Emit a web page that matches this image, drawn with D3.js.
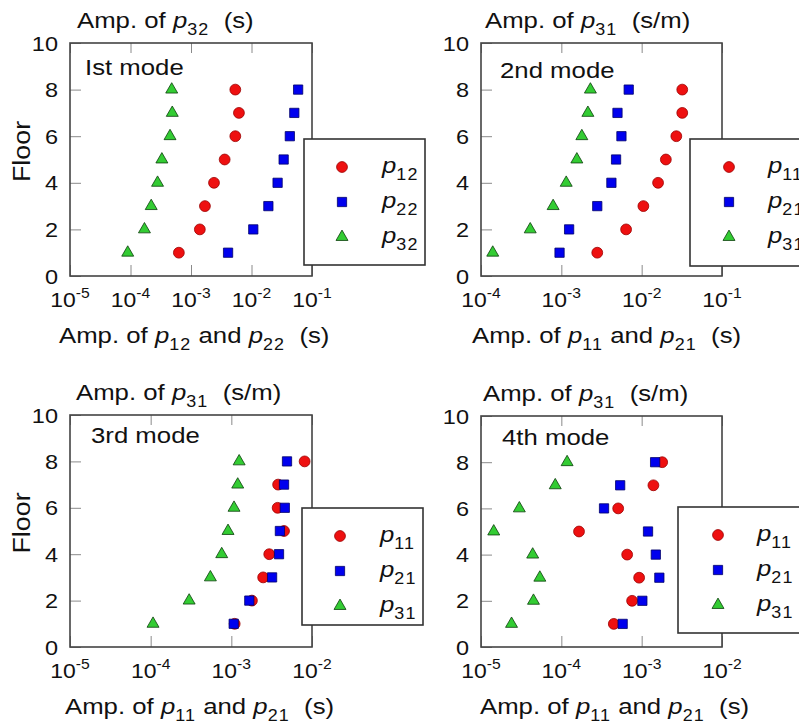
<!DOCTYPE html>
<html>
<head>
<meta charset="utf-8">
<script src="https://cdn.jsdelivr.net/npm/d3@7"></script>
<style>
  html, body { margin: 0; padding: 0; background: #fff; }
  svg { display: block; font-family: "Liberation Sans", Arial, sans-serif; }
  text { white-space: pre; }
</style>
</head>
<body>
<svg id="chart" width="799" height="722"></svg>
<script>
/* Mode amplitude vs floor, four panels */
(function(){
  // data: amplitude per floor, floors 1..8
  const floors = [1, 2, 3, 4, 5, 6, 7, 8];

  const mode1_p12 = [6.3e-4, 1.4e-3, 1.7e-3, 2.4e-3, 3.6e-3, 5.4e-3, 6.2e-3, 5.4e-3];
  const mode1_p22 = [4.1e-3, 1.07e-2, 1.9e-2, 2.7e-2, 3.4e-2, 4.3e-2, 5.1e-2, 5.9e-2];
  const mode1_p32 = [9e-5, 1.7e-4, 2.2e-4, 2.8e-4, 3.3e-4, 4.5e-4, 4.9e-4, 4.8e-4];

  const mode2_p11 = [2.8e-3, 6.4e-3, 1.05e-2, 1.6e-2, 2.0e-2, 2.7e-2, 3.2e-2, 3.2e-2];
  const mode2_p21 = [9.5e-4, 1.25e-3, 2.8e-3, 4.2e-3, 4.8e-3, 5.6e-3, 5.0e-3, 6.9e-3];
  const mode2_p31 = [1.4e-4, 4.1e-4, 7.9e-4, 1.15e-3, 1.56e-3, 1.8e-3, 2.14e-3, 2.3e-3];

  const mode3_p11 = [1.1e-3, 1.8e-3, 2.48e-3, 2.95e-3, 4.5e-3, 3.75e-3, 3.8e-3, 8.1e-3];
  const mode3_p21 = [1.07e-3, 1.67e-3, 3.2e-3, 3.9e-3, 4.0e-3, 4.6e-3, 4.5e-3, 4.9e-3];
  const mode3_p31 = [1.07e-4, 3.0e-4, 5.5e-4, 7.6e-4, 9.1e-4, 1.08e-3, 1.2e-3, 1.25e-3];

  const mode4_p11 = [4.5e-4, 7.6e-4, 9.3e-4, 6.6e-4, 1.66e-4, 5.1e-4, 1.4e-3, 1.8e-3];
  const mode4_p21 = [5.8e-4, 1.02e-3, 1.66e-3, 1.5e-3, 1.2e-3, 3.4e-4, 5.4e-4, 1.47e-3];
  const mode4_p31 = [2.4e-5, 4.5e-5, 5.4e-5, 4.4e-5, 1.44e-5, 3.0e-5, 8.4e-5, 1.18e-4];

  const modeNames = ['Ist mode', '2nd mode', '3rd mode', '4th mode'];
  const floorTicks = [0, 2, 4, 6, 8, 10];

  const svg = d3.select('#chart');
  const SX = 1.12; // text in the figure is a bit wide
  const FS = 23;   // main label size

  const styles = {
    circle: { type: d3.symbolCircle, size: 92, fill: '#ee1010', stroke: '#9a0000' },
    square: { type: d3.symbolSquare, size: 86, fill: '#0000ee', stroke: '#00006a' },
    triangle: { type: d3.symbolTriangle, size: 62, fill: '#33cc33', stroke: '#0b3d0b' }
  };

  // panel layout
  const panels = [
    { x0: 70, x1: 312, y0: 43, y1: 276, dom: [1e-5, 1e-1], mode: modeNames[0],
      modeX: 15, modeY: 32, floorLabel: true, titleDx: 7, xlabDx: -11,
      top: '32', topUnit: 's', botA: '12', botB: '22',
      series: [['circle', '12', mode1_p12], ['square', '22', mode1_p22], ['triangle', '32', mode1_p32]],
      leg: { x: 304, y: 139, w: 121, h: 126, mx: 342, tx: 382, r0: 167 } },
    { x0: 481, x1: 722, y0: 43, y1: 276, dom: [1e-4, 1e-1], mode: modeNames[1],
      modeX: 19, modeY: 35, floorLabel: false, titleDx: 4, xlabDx: -9,
      top: '31', topUnit: 's/m', botA: '11', botB: '21',
      series: [['circle', '11', mode2_p11], ['square', '21', mode2_p21], ['triangle', '31', mode2_p31]],
      leg: { x: 690, y: 139, w: 140, h: 127, mx: 729, tx: 768, r0: 167 } },
    { x0: 70, x1: 312, y0: 415, y1: 647, dom: [1e-5, 1e-2], mode: modeNames[2],
      modeX: 21, modeY: 28, floorLabel: true, titleDx: 6, xlabDx: -5,
      top: '31', topUnit: 's/m', botA: '11', botB: '21',
      series: [['circle', '11', mode3_p11], ['square', '21', mode3_p21], ['triangle', '31', mode3_p31]],
      leg: { x: 302, y: 508, w: 121, h: 117, mx: 340, tx: 380, r0: 536 } },
    { x0: 481, x1: 722, y0: 416, y1: 647, dom: [1e-5, 1e-2], mode: modeNames[3],
      modeX: 21, modeY: 29, floorLabel: false, titleDx: 2, xlabDx: -1,
      top: '31', topUnit: 's/m', botA: '11', botB: '21',
      series: [['circle', '11', mode4_p11], ['square', '21', mode4_p21], ['triangle', '31', mode4_p31]],
      leg: { x: 678, y: 507, w: 150, h: 126, mx: 718, tx: 757, r0: 535 } }
  ];

  // text helper: parts = [[string, kind]] kind: '' normal, 'i' italic, 's' subscript
  function label(g, x, y, parts, size, anchor){
    const t = g.append('text')
      .attr('transform', `translate(${x},${y}) scale(${SX},1)`)
      .attr('text-anchor', anchor || 'start')
      .style('font-size', size + 'px')
      .attr('fill', '#111');
    let shifted = false;
    parts.forEach(([s, kind]) => {
      const ts = t.append('tspan').text(s);
      if (kind === 'i') ts.style('font-style', 'italic');
      if (kind === 's') {
        ts.style('font-size', Math.round(size * 0.7) + 'px').style('letter-spacing', '1px').attr('dy', 7);
        shifted = true;
      } else if (shifted) { ts.attr('dy', -7); shifted = false; }
    });
    return t;
  }

  function sym(g, kind, x, y){
    const st = styles[kind];
    g.append('path')
      .attr('d', d3.symbol().type(st.type).size(st.size)())
      .attr('transform', `translate(${x},${y})`)
      .attr('fill', st.fill)
      .attr('stroke', st.stroke)
      .attr('stroke-width', 0.8);
  }

  panels.forEach(p => {
    const g = svg.append('g');
    const x = d3.scaleLog().domain(p.dom).range([p.x0, p.x1]);
    const y = d3.scaleLinear().domain([0, 10]).range([p.y1, p.y0]);
    const lo = Math.round(Math.log10(p.dom[0])), hi = Math.round(Math.log10(p.dom[1]));
    const decades = d3.range(lo, hi + 1).map(e => Math.pow(10, e));

    // inward tick marks
    const tickCol = '#8a8a8a';
    g.append('g').attr('transform', `translate(0,${p.y1})`)
      .call(d3.axisBottom(x).tickValues(decades).tickSize(-11).tickFormat(''))
      .call(a => { a.select('.domain').remove(); a.selectAll('line').attr('stroke', tickCol); });
    g.append('g').attr('transform', `translate(0,${p.y0})`)
      .call(d3.axisTop(x).tickValues(decades).tickSize(-10).tickFormat(''))
      .call(a => { a.select('.domain').remove(); a.selectAll('line').attr('stroke', tickCol); });
    g.append('g').attr('transform', `translate(${p.x0},0)`)
      .call(d3.axisLeft(y).tickValues(floorTicks).tickSize(-11).tickFormat(''))
      .call(a => { a.select('.domain').remove(); a.selectAll('line').attr('stroke', tickCol); });

    // frame
    g.append('rect')
      .attr('x', p.x0).attr('y', p.y0)
      .attr('width', p.x1 - p.x0).attr('height', p.y1 - p.y0)
      .attr('fill', 'none').attr('stroke', '#444').attr('stroke-width', 1.6);

    // x tick labels 10^n
    decades.forEach(v => {
      const e = Math.round(Math.log10(v));
      const t = g.append('text')
        .attr('transform', `translate(${x(v)},${p.y1 + 31}) scale(${SX},1)`)
        .attr('text-anchor', 'middle')
        .attr('fill', '#111')
        .style('font-size', '20.5px');
      t.append('tspan').text('10');
      t.append('tspan').text(String(e)).attr('dy', -9).style('font-size', '14px');
    });

    // y tick labels
    floorTicks.forEach(v => {
      g.append('text')
        .attr('transform', `translate(${p.x0 - 12},${y(v) + 7.5}) scale(${SX},1)`)
        .attr('text-anchor', 'end')
        .attr('fill', '#111')
        .style('font-size', '21px')
        .text(v);
    });

    // titles
    label(g, p.x0 + p.titleDx, p.y0 - 15,
      [['Amp. of ', ''], ['p', 'i'], [p.top, 's'], ['  (' + p.topUnit + ')', '']], FS);
    label(g, p.x0 + p.xlabDx, p.y1 + 67,
      [['Amp. of ', ''], ['p', 'i'], [p.botA, 's'], [' and ', ''], ['p', 'i'], [p.botB, 's'], ['  (s)', '']], FS);
    label(g, p.x0 + p.modeX, p.y0 + p.modeY, [[p.mode, '']], FS);

    if (p.floorLabel) {
      g.append('text')
        .attr('transform', `translate(${p.x0 - 40},${(p.y0 + p.y1) / 2 - 8}) rotate(-90) scale(${SX},1)`)
        .attr('text-anchor', 'middle')
        .attr('fill', '#111')
        .style('font-size', '24px')
        .text('Floor');
    }

    // markers: circles, then squares, then triangles
    p.series.forEach(([kind, , vals]) => {
      vals.forEach((v, i) => sym(g, kind, x(v), y(floors[i])));
    });

    // legend
    const L = p.leg;
    g.append('rect')
      .attr('x', L.x).attr('y', L.y).attr('width', L.w).attr('height', L.h)
      .attr('fill', '#fff').attr('stroke', '#333').attr('stroke-width', 1.6);
    p.series.forEach(([kind, sub], i) => {
      const ry = L.r0 + i * 35;
      sym(g, kind, L.mx, ry);
      label(g, L.tx, ry + 6, [['p', 'i'], [sub, 's']], FS);
    });
  });
})();
</script>
</body>
</html>
